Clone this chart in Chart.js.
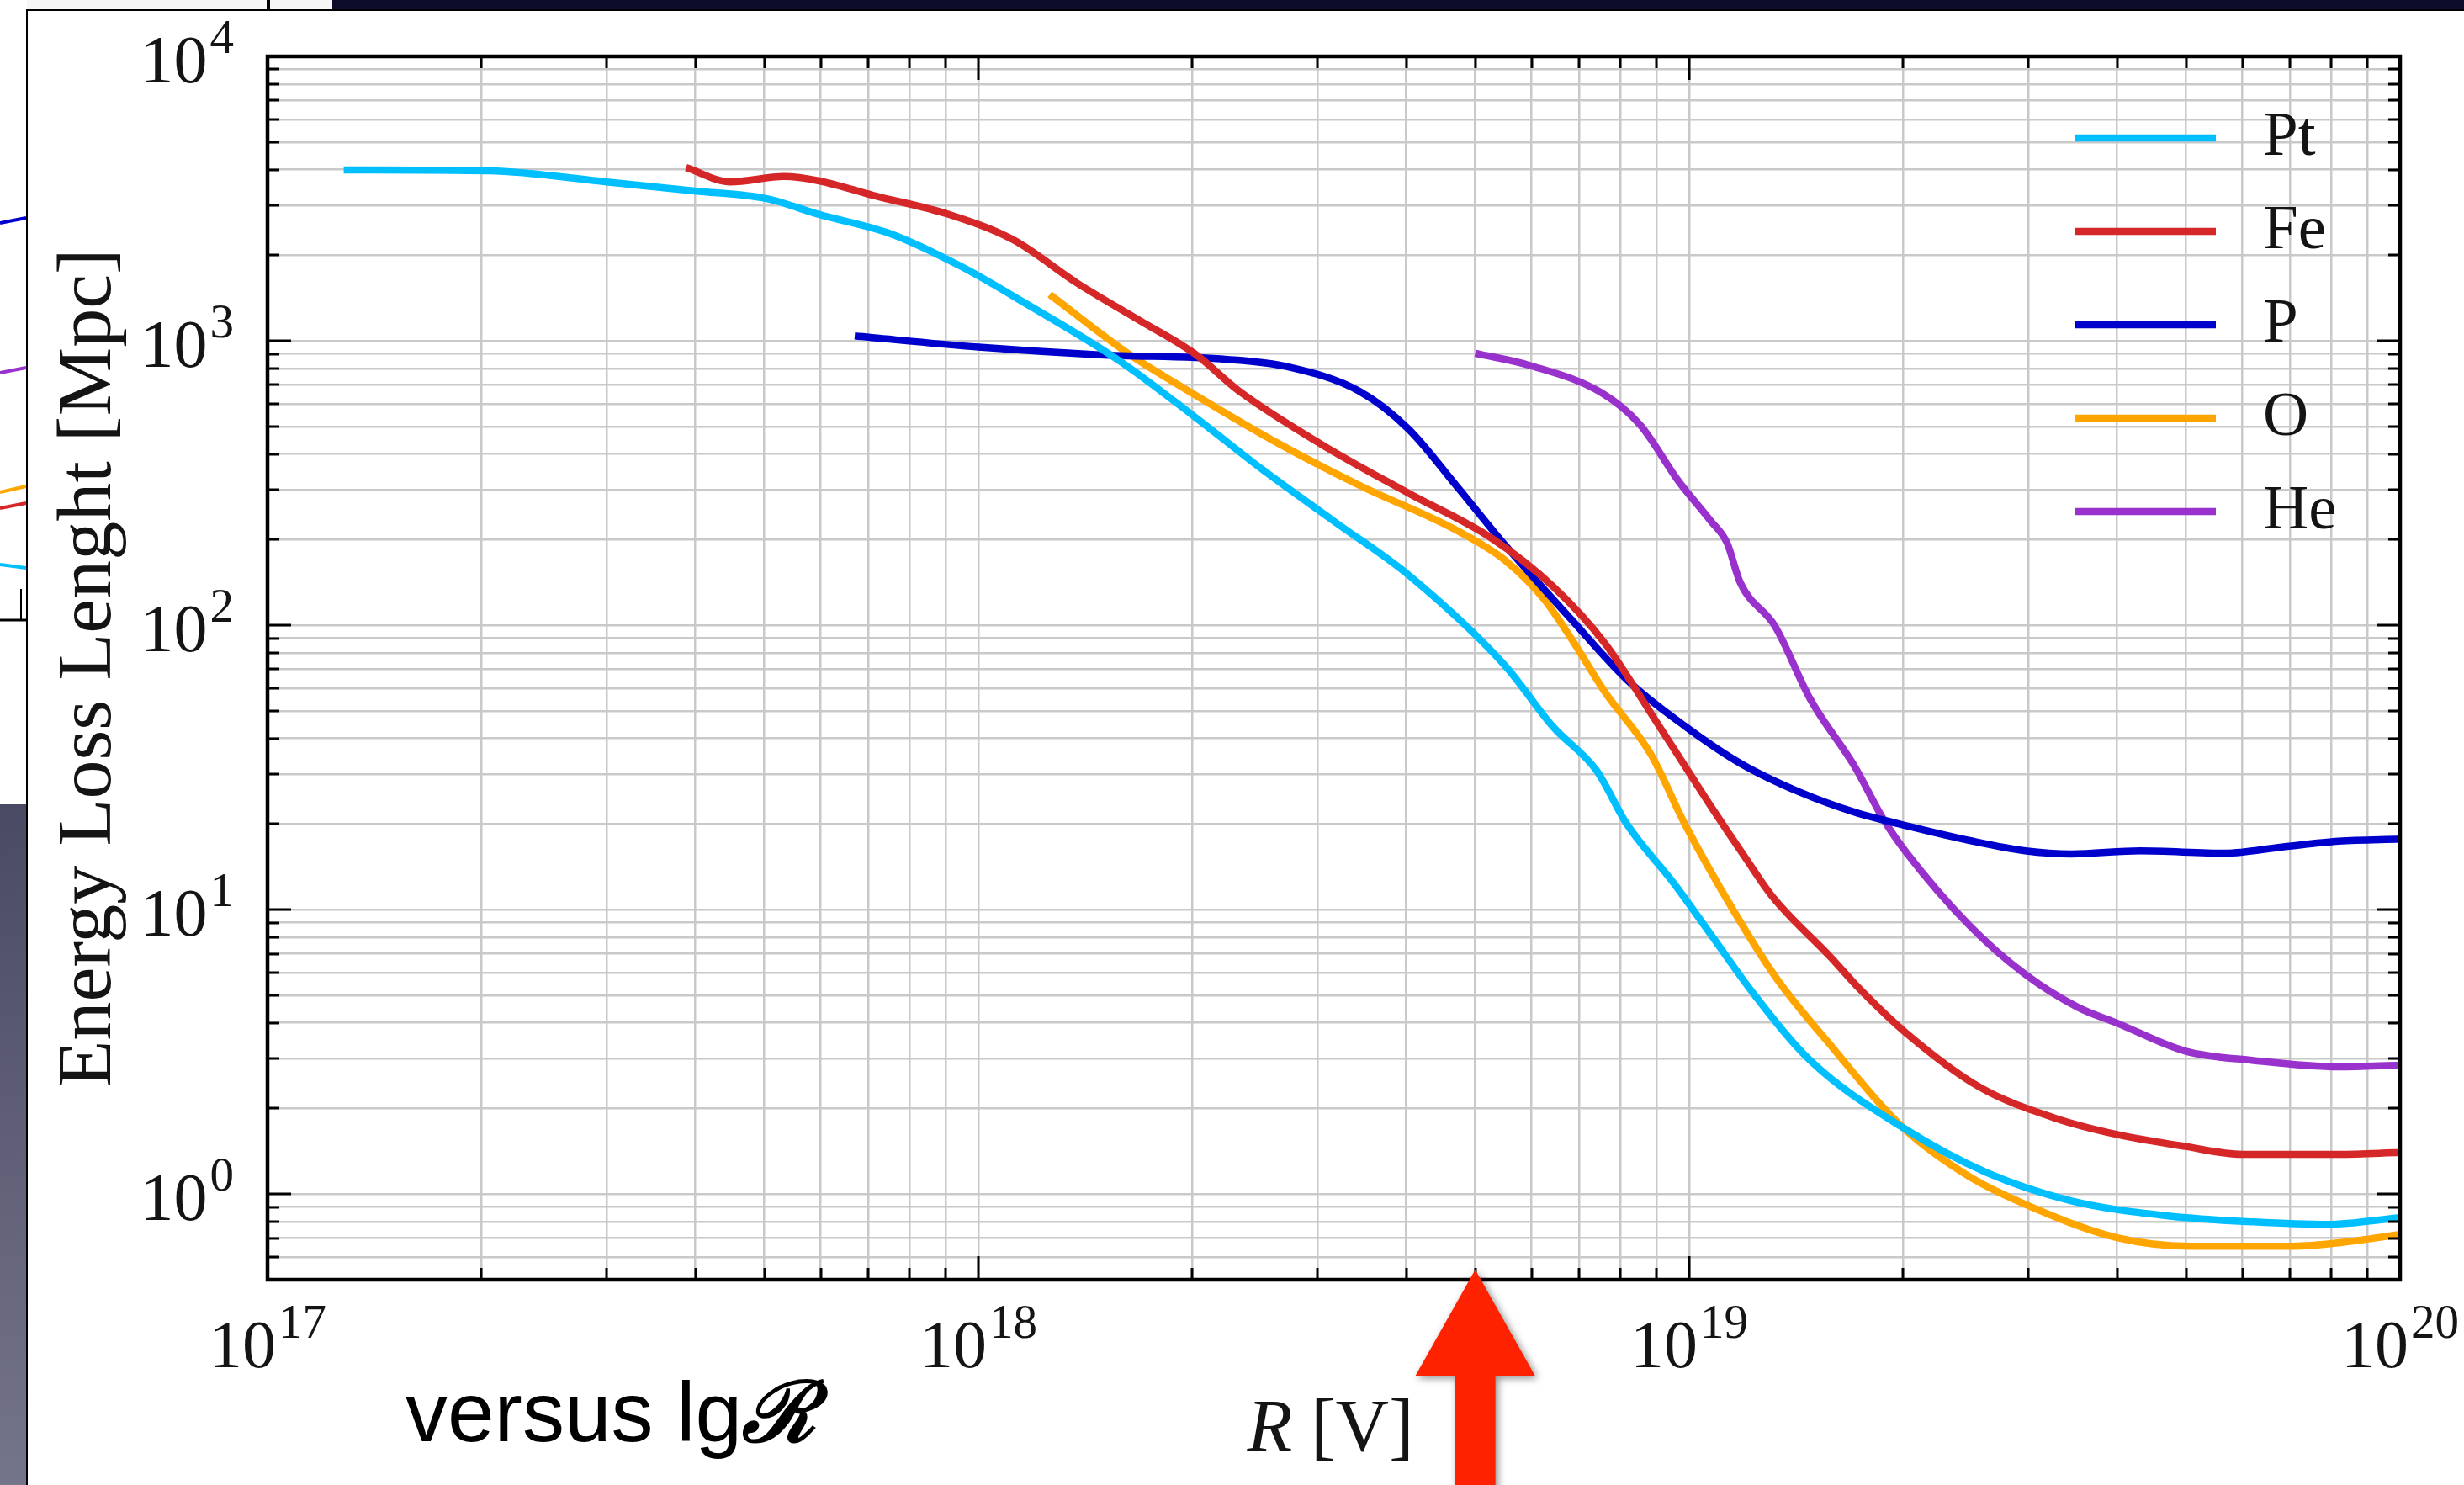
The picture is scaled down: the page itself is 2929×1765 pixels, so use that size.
<!DOCTYPE html>
<html>
<head>
<meta charset="utf-8">
<script src="https://cdn.jsdelivr.net/npm/chart.js@4.4.1/dist/chart.umd.min.js"></script>
<style>
html,body{margin:0;padding:0;width:2929px;height:1765px;overflow:hidden;background:#fff;}
#wrap{position:relative;width:2929px;height:1765px;}
.abs{position:absolute;}
#versus{left:482px;top:1628px;font-family:'Liberation Sans',Arial,sans-serif;font-size:100px;line-height:100px;color:#000;white-space:nowrap;}
#versus span{font-family:'DejaVu Serif',serif;font-style:italic;font-weight:bold;}
</style>
</head>
<body>
<div id="wrap">
  <div class="abs" style="left:0;top:0;width:2929px;height:12px;background:#0c0c2a"></div>
  <div class="abs" style="left:0;top:0;width:395px;height:12px;background:#f6f6f6"></div>
  <div class="abs" style="left:317px;top:0;width:4px;height:12px;background:#000"></div>
  <svg class="abs" style="left:0;top:0" width="32" height="1765">
    <rect x="0" y="0" width="32" height="956" fill="#ffffff"/>
    <defs><linearGradient id="g" x1="0" y1="0" x2="0" y2="1"><stop offset="0" stop-color="#4b4a64"/><stop offset="1" stop-color="#74748a"/></linearGradient></defs>
    <rect x="0" y="956" width="32" height="809" fill="url(#g)"/>
    <line x1="0" y1="265" x2="31" y2="259" stroke="#0000cd" stroke-width="4"/>
    <line x1="0" y1="443" x2="31" y2="437" stroke="#9932cc" stroke-width="4"/>
    <line x1="0" y1="585" x2="31" y2="578" stroke="#ffa500" stroke-width="4"/>
    <line x1="0" y1="604" x2="31" y2="598" stroke="#d62728" stroke-width="4"/>
    <line x1="0" y1="671" x2="31" y2="675" stroke="#00bfff" stroke-width="4"/>
    <line x1="0" y1="737" x2="31" y2="737" stroke="#000" stroke-width="3"/>
    <line x1="25" y1="700" x2="25" y2="737" stroke="#000" stroke-width="2"/>
  </svg>
  <div class="abs" style="left:31px;top:11px;width:2898px;height:1754px;border-left:2px solid #000;border-top:2px solid #000;background:#fff;box-sizing:border-box"></div>
  <canvas id="c" class="abs" style="left:0;top:0" width="2929" height="1765"></canvas>
  <div class="abs" id="versus">versus lg<span>ℛ</span></div>
</div>
<script>
// ---- axis ranges and tick labels ----
const xMin = 1e17, xMax = 1e20;
const yMin = 0.5, yMax = 1e4;
const xDecades = [1e17, 1e18, 1e19, 1e20];
const yDecades = [1e0, 1e1, 1e2, 1e3, 1e4];
const tickBase = '10';
const xTickExponents = ['17', '18', '19', '20'];
const yTickExponents = ['0', '1', '2', '3', '4'];
const minorMultipliers = [2, 3, 4, 5, 6, 7, 8, 9];
const xTitleVar = 'R';
const xTitleUnit = ' [V]';
const yTitle = 'Energy Loss Lenght [Mpc]';
const arrowR = 5e18;

// ---- series ----
const seriesNames = ['Pt', 'Fe', 'P', 'O', 'He'];
const seriesColors = ['#00bfff', '#d62728', '#0000cd', '#ffa500', '#9932cc'];

const ptR = [1.28e17, 2.05e17, 3.00e17, 3.99e17, 5.04e17, 5.97e17, 7.52e17, 9.44e17, 1.15e18, 1.58e18, 2.02e18, 2.52e18, 3.18e18, 4.03e18, 5.51e18, 6.43e18, 7.41e18, 8.17e18, 9.51e18, 1.08e19, 1.23e19, 1.48e19, 2.00e19, 2.62e19, 3.45e19, 4.72e19, 6.22e19, 7.89e19, 1.00e20];
const ptL = [3990, 3960, 3620, 3365, 3160, 2780, 2380, 1830, 1380, 850, 538, 350, 230, 150, 72, 44, 30.8, 20.0, 12.4, 7.98, 5.09, 2.95, 1.71, 1.19, 0.946, 0.838, 0.798, 0.782, 0.826];

const feR = [3.88e17, 4.48e17, 5.33e17, 5.97e17, 7.10e17, 9.10e17, 1.12e18, 1.38e18, 1.68e18, 2.02e18, 2.33e18, 3.04e18, 4.03e18, 5.26e18, 6.43e18, 7.62e18, 8.93e18, 1.00e19, 1.08e19, 1.20e19, 1.31e19, 1.58e19, 1.74e19, 2.02e19, 2.56e19, 3.27e19, 4.00e19, 4.99e19, 6.00e19, 8.20e19, 1.00e20];
const feL = [4065, 3620, 3780, 3650, 3250, 2780, 2265, 1590, 1185, 897, 664, 432, 291, 203, 137, 86, 47, 30.3, 22.5, 15.2, 11.1, 6.82, 5.24, 3.68, 2.38, 1.85, 1.62, 1.47, 1.38, 1.38, 1.40];

const pR = [6.70e17, 1.00e18, 1.48e18, 2.24e18, 2.73e18, 3.44e18, 4.03e18, 4.70e18, 5.51e18, 6.82e18, 8.20e18, 9.86e18, 1.18e19, 1.43e19, 1.71e19, 2.06e19, 2.48e19, 2.97e19, 3.45e19, 4.31e19, 5.68e19, 6.82e19, 8.20e19, 1.00e20];
const pL = [1040, 950, 893, 860, 809, 664, 489, 310, 191, 105, 63.8, 44.2, 32.7, 25.9, 22.0, 19.5, 17.5, 16.1, 15.7, 16.1, 15.8, 16.6, 17.4, 17.7];

const oR = [1.26e18, 1.63e18, 1.90e18, 2.59e18, 3.44e18, 4.70e18, 5.51e18, 6.24e18, 6.82e18, 7.62e18, 8.83e18, 9.86e18, 1.16e19, 1.33e19, 1.56e19, 2.00e19, 2.48e19, 3.02e19, 4.00e19, 5.06e19, 7.08e19, 8.36e19, 1.00e20];
const oL = [1455, 897, 706, 448, 310, 216, 169, 124, 90, 58, 35.2, 20.0, 9.73, 5.69, 3.47, 1.71, 1.15, 0.904, 0.702, 0.656, 0.656, 0.678, 0.721];

const heR = [5.00e18, 5.96e18, 7.53e18, 8.53e18, 9.66e18, 1.07e19, 1.13e19, 1.18e19, 1.32e19, 1.48e19, 1.71e19, 1.88e19, 2.02e19, 2.48e19, 2.96e19, 3.52e19, 4.00e19, 4.99e19, 6.22e19, 8.20e19, 1.00e20];
const heL = [904, 820, 656, 506, 321, 234, 195, 141, 99.3, 55, 31.8, 20.6, 15.9, 8.79, 5.96, 4.54, 3.99, 3.18, 2.95, 2.80, 2.84];

const seriesR = [ptR, feR, pR, oR, heR];
const seriesL = [ptL, feL, pL, oL, heL];

// ---- helpers ----
function isDecade(v) { const l = Math.log10(v); return Math.abs(l - Math.round(l)) < 1e-9; }
function logTickValues(min, max) {
  const out = [];
  for (let e = Math.floor(Math.log10(min)); e <= Math.ceil(Math.log10(max)); e++) {
    [1].concat(minorMultipliers).forEach(m => {
      const v = m * Math.pow(10, e);
      if (v >= min * 0.9999 && v <= max * 1.0001) out.push(v);
    });
  }
  return out;
}
function decadeIndex(value, decades) {
  return decades.findIndex(d => Math.abs(value / d - 1) < 1e-6);
}

const serif = "'Liberation Serif', 'DejaVu Serif', serif";
const textColor = '#141414';
const gridColor = '#c9c9c9';
const lineW = 8.5;
const baseFont = '80px ' + serif;
const expFont = '57px ' + serif;

function drawPower(ctx, exp, x, yBase, align) {
  ctx.font = baseFont; const w1 = ctx.measureText(tickBase).width;
  ctx.font = expFont; const w2 = ctx.measureText(exp).width;
  const gap = 3, total = w1 + gap + w2;
  const x0 = align === 'center' ? x - total / 2 : x - total;
  ctx.font = baseFont; ctx.fillText(tickBase, x0, yBase);
  ctx.font = expFont; ctx.fillText(exp, x0 + w1 + gap, yBase - 35);
}

const datasets = seriesNames.map((name, k) => ({
  label: name,
  data: seriesR[k].map((r, i) => ({ x: r, y: seriesL[k][i] })),
  borderColor: seriesColors[k],
  backgroundColor: seriesColors[k],
  borderWidth: lineW,
  pointRadius: 0,
  fill: false,
  cubicInterpolationMode: 'monotone',
  borderJoinStyle: 'round',
  borderCapStyle: 'butt'
}));

const framePlugin = {
  id: 'frameTicksLegend',
  afterDatasetsDraw(chart) {
    const { ctx, chartArea: a, scales } = chart;
    const x = scales.x, y = scales.y;
    ctx.save();
    ctx.strokeStyle = '#000';
    ctx.lineWidth = 3;
    ctx.beginPath();
    x.ticks.forEach(t => {
      const px = Math.round(x.getPixelForValue(t.value));
      const len = isDecade(t.value) ? 28 : 14;
      ctx.moveTo(px, a.bottom); ctx.lineTo(px, a.bottom - len);
      ctx.moveTo(px, a.top); ctx.lineTo(px, a.top + len);
    });
    y.ticks.forEach(t => {
      const py = Math.round(y.getPixelForValue(t.value));
      const len = isDecade(t.value) ? 28 : 14;
      ctx.moveTo(a.left, py); ctx.lineTo(a.left + len, py);
      ctx.moveTo(a.right, py); ctx.lineTo(a.right - len, py);
    });
    ctx.stroke();
    ctx.lineWidth = 4.5;
    ctx.strokeRect(a.left, a.top, a.right - a.left, a.bottom - a.top);

    // legend (inside, upper right, no frame)
    const lx0 = a.right - 387, lx1 = a.right - 219, tx = a.right - 163;
    ctx.font = '75px ' + serif;
    ctx.textBaseline = 'middle';
    ctx.textAlign = 'left';
    chart.data.datasets.forEach((ds, i) => {
      const yy = a.top + 97 + i * 111;
      ctx.strokeStyle = ds.borderColor;
      ctx.lineWidth = lineW;
      ctx.beginPath(); ctx.moveTo(lx0, yy); ctx.lineTo(lx1, yy); ctx.stroke();
      ctx.fillStyle = textColor;
      ctx.fillText(ds.label, tx, yy);
    });
    ctx.restore();
  },
  afterDraw(chart) {
    const { ctx, chartArea: a, scales } = chart;
    const x = scales.x, y = scales.y;
    ctx.save();
    ctx.fillStyle = textColor;
    ctx.textAlign = 'left';
    ctx.textBaseline = 'alphabetic';
    // tick labels (decades, with superscript exponent)
    x.ticks.forEach(t => {
      const i = decadeIndex(t.value, xDecades);
      if (i >= 0) drawPower(ctx, xTickExponents[i], x.getPixelForValue(t.value), a.bottom + 104, 'center');
    });
    y.ticks.forEach(t => {
      const i = decadeIndex(t.value, yDecades);
      if (i >= 0) drawPower(ctx, yTickExponents[i], a.left - 40, y.getPixelForValue(t.value) + 31, 'right');
    });
    // x axis title: italic R, upright unit
    const fI = 'italic 88px ' + serif, fN = '88px ' + serif;
    ctx.font = fI; const wR = ctx.measureText(xTitleVar).width;
    ctx.font = fN; const wU = ctx.measureText(xTitleUnit).width;
    const cx = (a.left + a.right) / 2 - 4;
    const x0 = cx - (wR + wU) / 2;
    ctx.font = fI; ctx.fillText(xTitleVar, x0, a.bottom + 203);
    ctx.font = fN; ctx.fillText(xTitleUnit, x0 + wR, a.bottom + 203);
    ctx.restore();

    // red arrow pointing at R = arrowR
    const ax = x.getPixelForValue(arrowR);
    const tip = a.bottom - 12, base = a.bottom + 114, end = chart.height + 10;
    ctx.save();
    ctx.shadowColor = 'rgba(0,0,0,0.45)';
    ctx.shadowBlur = 10;
    ctx.shadowOffsetX = 3;
    ctx.shadowOffsetY = 3;
    ctx.fillStyle = '#ff2200';
    ctx.beginPath();
    ctx.moveTo(ax, tip);
    ctx.lineTo(ax + 71, base);
    ctx.lineTo(ax + 24, base);
    ctx.lineTo(ax + 24, end);
    ctx.lineTo(ax - 24, end);
    ctx.lineTo(ax - 24, base);
    ctx.lineTo(ax - 71, base);
    ctx.closePath();
    ctx.fill();
    ctx.restore();
  }
};

new Chart(document.getElementById('c'), {
  type: 'line',
  data: { datasets },
  options: {
    responsive: false,
    animation: false,
    devicePixelRatio: 1,
    events: [],
    layout: { padding: { left: 0, right: 76, top: 67, bottom: 0 } },
    plugins: { legend: { display: false }, tooltip: { enabled: false }, title: { display: false } },
    scales: {
      x: {
        type: 'logarithmic',
        position: 'bottom',
        min: xMin, max: xMax,
        afterBuildTicks: s => { s.ticks = logTickValues(xMin, xMax).map(v => ({ value: v, major: isDecade(v) })); },
        afterFit: s => { s.height = 244; s.paddingLeft = 0; s.paddingRight = 0; s.paddingTop = 0; s.paddingBottom = 0; },
        grid: { color: gridColor, lineWidth: 2.5, drawTicks: false },
        border: { display: true, color: '#000', width: 4 },
        ticks: { display: false, autoSkip: false },
        title: { display: false }
      },
      y: {
        type: 'logarithmic',
        position: 'left',
        min: yMin, max: yMax,
        afterBuildTicks: s => { s.ticks = logTickValues(yMin, yMax).map(v => ({ value: v, major: isDecade(v) })); },
        afterFit: s => { s.width = 318; s.paddingLeft = 0; s.paddingRight = 0; s.paddingTop = 0; s.paddingBottom = 0; },
        grid: { color: gridColor, lineWidth: 2.5, drawTicks: false },
        border: { display: true, color: '#000', width: 4 },
        ticks: { display: false, autoSkip: false },
        title: { display: true, text: yTitle, color: textColor, font: { family: serif, size: 92 }, padding: { top: 52, bottom: 0 } }
      }
    }
  },
  plugins: [framePlugin]
});
</script>
</body>
</html>
